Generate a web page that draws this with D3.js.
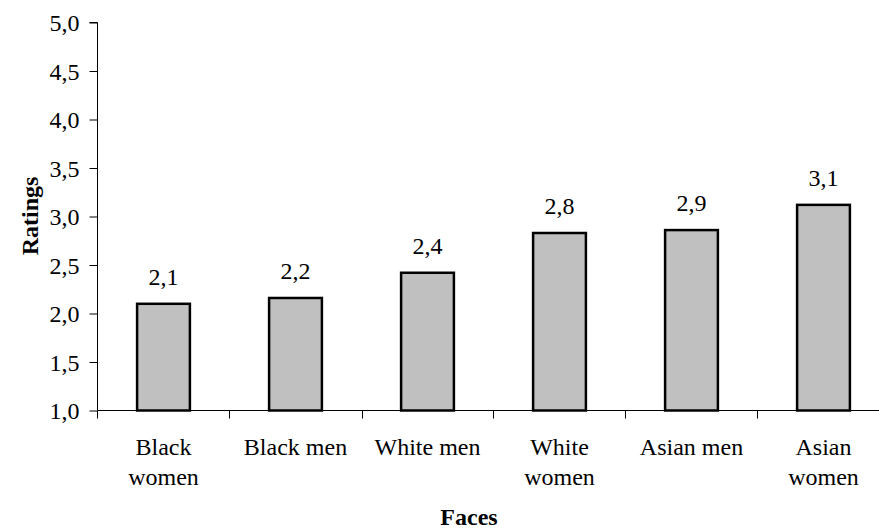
<!DOCTYPE html>
<html>
<head>
<meta charset="utf-8">
<script src="https://cdn.jsdelivr.net/npm/d3@7"></script>
<style>
  html, body { margin: 0; padding: 0; background: #fff; }
</style>
</head>
<body>
<svg id="chart" width="879" height="532"></svg>
<script>
// Mean ratings per face group
const categories = ["Black women", "Black men", "White men", "White women", "Asian men", "Asian women"];
const ratings = [2.10, 2.16, 2.42, 2.83, 2.86, 3.12];
const yTicks = [1.0, 1.5, 2.0, 2.5, 3.0, 3.5, 4.0, 4.5, 5.0];

const FONT = "'Liberation Serif', 'Times New Roman', Times, 'DejaVu Serif', serif";
const FS = 24;

const svg = d3.select("#chart")
  .attr("font-family", FONT);
const plotLeft = 97.5, plotTop = 22.5, plotBottom = 410.5, plotRight = 889.5;

const x = d3.scaleBand()
  .domain(categories)
  .range([plotLeft, plotRight])
  .paddingInner(0.6)
  .paddingOuter(0.3);

const y = d3.scaleLinear().domain([1, 5]).range([plotBottom, plotTop]);

const fmt = v => d3.format(".1f")(v).replace(".", ",");

// Y axis
const yAxis = svg.append("g")
  .attr("transform", `translate(${plotLeft},0)`)
  .call(d3.axisLeft(y).tickValues(yTicks).tickFormat(fmt).tickSize(8).tickPadding(10));
yAxis.attr("font-family", FONT).attr("font-size", FS);
yAxis.selectAll("text").attr("fill", "#000").attr("dy", "0.34em");
yAxis.selectAll("line, path").attr("stroke", "#000").attr("stroke-width", 1);
yAxis.select(".domain").attr("d", `M-8,${plotTop}H0V${plotBottom}`);

// Bars
svg.append("g").selectAll("rect")
  .data(categories)
  .join("rect")
  .attr("x", d => x(d))
  .attr("width", x.bandwidth())
  .attr("y", (d, i) => y(ratings[i]))
  .attr("height", (d, i) => y(1) - y(ratings[i]))
  .attr("fill", "#c0c0c0")
  .attr("stroke", "#000")
  .attr("stroke-width", 2.5);

// X axis baseline and separator ticks between categories
svg.append("line")
  .attr("x1", plotLeft).attr("x2", 879)
  .attr("y1", plotBottom).attr("y2", plotBottom)
  .attr("stroke", "#000").attr("stroke-width", 1);

const gap = (x.step() - x.bandwidth()) / 2;
svg.append("g").selectAll("line")
  .data(categories)
  .join("line")
  .attr("x1", d => Math.round(x(d) - gap) + 0.5)
  .attr("x2", d => Math.round(x(d) - gap) + 0.5)
  .attr("y1", plotBottom).attr("y2", plotBottom + 8)
  .attr("stroke", "#000").attr("stroke-width", 1);

// Value labels above bars
svg.append("g")
  .attr("font-size", FS)
  .selectAll("text")
  .data(categories)
  .join("text")
  .attr("x", d => x(d) + x.bandwidth() / 2)
  .attr("y", (d, i) => y(ratings[i]) - 19)
  .attr("text-anchor", "middle")
  .text((d, i) => fmt(ratings[i]));

// Category labels, wrapped when wider than the band step
const catG = svg.append("g").attr("font-size", FS);
categories.forEach(c => {
  const cx = x(c) + x.bandwidth() / 2;
  const t = catG.append("text")
    .attr("text-anchor", "middle")
    .attr("x", cx)
    .attr("y", 455)
    .text(c);
  if (t.node().getComputedTextLength() > 118) {
    t.text(null);
    c.split(" ").forEach((word, k) => {
      t.append("tspan")
        .attr("x", cx)
        .attr("y", 455 + k * 30)
        .text(word);
    });
  }
});

// Axis titles
svg.append("text")
  .attr("x", 469).attr("y", 525)
  .attr("text-anchor", "middle")
  .attr("font-size", FS).attr("font-weight", "bold")
  .text("Faces");

svg.append("text")
  .attr("transform", "translate(38,216) rotate(-90)")
  .attr("text-anchor", "middle")
  .attr("font-size", FS).attr("font-weight", "bold")
  .text("Ratings");
</script>
</body>
</html>
